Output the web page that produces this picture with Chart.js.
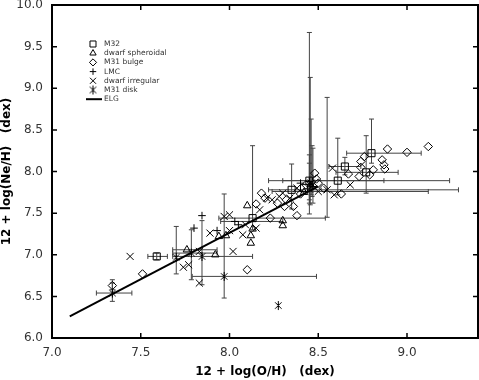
<!DOCTYPE html>
<html>
<head>
<meta charset="utf-8">
<script src="https://cdn.jsdelivr.net/npm/chart.js@4.4.0/dist/chart.umd.min.js"></script>
<style>
  html, body { margin: 0; padding: 0; background: #fff; }
</style>
</head>
<body>
<canvas id="chart" width="479" height="380"></canvas>
<script>
// rows: [O/H, Ne/H, O/H low, O/H high, Ne/H low, Ne/H high]
const m32 = [
  [7.59, 6.98, 7.54, 7.65, 6.94, 7.02],
  [8.13, 7.44, 7.94, 8.54, 7.30, 8.31],
  [8.35, 7.78, 8.22, 9.29, 7.55, 8.09],
  [8.45, 7.89, 8.30, 8.87, 7.62, 8.20],
  [8.42, 7.80],
  [8.61, 7.89, 8.22, 9.24, 7.72, 8.40],
  [8.65, 8.06, 8.56, 8.74, 7.96, 8.17],
  [8.77, 7.99, 8.60, 8.95, 7.74, 8.43],
  [8.80, 8.22, 8.66, 9.08, 8.10, 8.63]
];
const dwarfSph = [
  [7.76, 7.06, 7.68, 7.93, null, null],
  [7.92, 7.00],
  [7.94, 7.22],
  [7.98, 7.23],
  [8.10, 7.59],
  [8.13, 7.31],
  [8.12, 7.23],
  [8.12, 7.14],
  [8.30, 7.41],
  [8.30, 7.35],
  [8.42, 7.75]
];
const m31Bulge = [
  [7.34, 6.63, null, null, 6.58, 6.70],
  [7.51, 6.77], [8.10, 6.82], [8.15, 7.61], [8.20, 7.68],
  [8.18, 7.74], [8.23, 7.44], [8.27, 7.62], [8.32, 7.66],
  [8.36, 7.58], [8.31, 7.58], [8.38, 7.47], [8.40, 7.73],
  [8.43, 7.84], [8.48, 7.98], [8.49, 7.91], [8.50, 7.86],
  [8.53, 7.80], [8.63, 7.73], [8.67, 7.97], [8.73, 7.94],
  [8.74, 8.05], [8.74, 8.12], [8.76, 8.18], [8.79, 7.96],
  [8.81, 8.02], [8.86, 8.14], [8.87, 8.08], [8.875, 8.03],
  [8.89, 8.27], [9.00, 8.23], [9.12, 8.30]
];
const lmc = [
  [7.80, 7.32],
  [7.845, 7.47],
  [7.93, 7.29],
  [8.03, 7.40, 7.95, 8.30, null, null],
  [8.05, 7.36],
  [8.40, 7.86],
  [8.455, 7.84, null, null, 7.60, 9.13],
  [8.47, 7.82, null, null, 7.62, 8.28],
  [8.45, 7.88, null, null, 7.66, 8.10]
];
const dwarfIrr = [
  [7.44, 6.98], [7.74, 6.85], [7.77, 6.88], [7.83, 6.66],
  [7.83, 7.04], [7.89, 7.26], [7.97, 7.46], [8.00, 7.48],
  [8.00, 7.29], [8.02, 7.04], [8.075, 7.24], [8.09, 7.36],
  [8.15, 7.32], [8.17, 7.54], [8.21, 7.68], [8.24, 7.66],
  [8.28, 7.70], [8.30, 7.74], [8.34, 7.68], [8.38, 7.80],
  [8.45, 7.79, null, null, 7.49, 9.67],
  [8.46, 7.86, null, null, 7.72, 8.63],
  [8.50, 7.76, 8.24, 9.12, null, null],
  [8.55, 7.78, null, null, 7.45, 8.89],
  [8.58, 8.04], [8.59, 7.72], [8.68, 7.84]
];
const m31Disk = [
  [7.34, 6.54, 7.25, 7.45, 6.44, 6.66],
  [7.70, 6.97, null, null, 6.77, 7.34],
  [7.785, 7.02, 7.68, 7.93, 6.70, 7.30],
  [7.845, 6.98, 7.68, 8.13, 6.64, 7.41],
  [7.97, 6.74, 7.79, 8.49, 6.48, 7.73],
  [8.275, 6.39],
  [8.465, 7.83, null, null, 7.70, 8.31]
];
const elgX = [7.1, 8.5];
const elgY = [6.26, 7.82];

const xTickValues = [7.0, 7.5, 8.0, 8.5, 9.0];
const yTickValues = [6.0, 6.5, 7.0, 7.5, 8.0, 8.5, 9.0, 9.5, 10.0];

Chart.defaults.font.family = '"DejaVu Sans", Verdana, sans-serif';

// Excel-style star marker: x with a vertical stroke
function asterisk(r) {
  const c = document.createElement('canvas');
  const s = Math.ceil(r * 2) + 2;
  c.width = s; c.height = s;
  const g = c.getContext('2d');
  const m = s / 2, d = r * 0.72;
  g.strokeStyle = '#000';
  g.lineWidth = 1;
  g.beginPath();
  g.moveTo(m - d, m - d); g.lineTo(m + d, m + d);
  g.moveTo(m + d, m - d); g.lineTo(m - d, m + d);
  g.moveTo(m, m - r); g.lineTo(m, m + r);
  g.stroke();
  return c;
}

const series = [
  { label: 'M32', rows: m32, style: 'rect', radius: 5 },
  { label: 'dwarf spheroidal', rows: dwarfSph, style: 'triangle', radius: 4.3 },
  { label: 'M31 bulge', rows: m31Bulge, style: 'rectRot', radius: 4.2 },
  { label: 'LMC', rows: lmc, style: 'cross', radius: 3.8 },
  { label: 'dwarf irregular', rows: dwarfIrr, style: 'crossRot', radius: 5 },
  { label: 'M31 disk', rows: m31Disk, style: asterisk(4.5), radius: 4.5 }
];

const datasets = series.map(s => ({
  label: s.label,
  data: s.rows.map(r => ({ x: r[0], y: r[1] })),
  pointStyle: s.style,
  pointRadius: s.radius,
  pointBorderWidth: 1,
  borderColor: '#000',
  backgroundColor: 'rgba(0,0,0,0)',
  showLine: false
}));
datasets.push({
  label: 'ELG',
  data: elgX.map((x, i) => ({ x: x, y: elgY[i] })),
  showLine: true,
  borderColor: '#000',
  borderWidth: 2,
  pointRadius: 0,
  fill: false
});

const errorBars = {
  id: 'errorBars',
  beforeDatasetsDraw(chart) {
    const { ctx, scales: { x, y } } = chart;
    const cap = 2.5;
    ctx.save();
    ctx.strokeStyle = '#444';
    ctx.lineWidth = 1;
    ctx.beginPath();
    series.forEach(s => s.rows.forEach(r => {
      const px = x.getPixelForValue(r[0]);
      const py = y.getPixelForValue(r[1]);
      if (r[2] != null) {
        const a = x.getPixelForValue(r[2]), b = x.getPixelForValue(r[3]);
        ctx.moveTo(a, py); ctx.lineTo(b, py);
        ctx.moveTo(a, py - cap); ctx.lineTo(a, py + cap);
        ctx.moveTo(b, py - cap); ctx.lineTo(b, py + cap);
      }
      if (r[4] != null) {
        const a = y.getPixelForValue(r[4]), b = y.getPixelForValue(r[5]);
        ctx.moveTo(px, a); ctx.lineTo(px, b);
        ctx.moveTo(px - cap, a); ctx.lineTo(px + cap, a);
        ctx.moveTo(px - cap, b); ctx.lineTo(px + cap, b);
      }
    }));
    ctx.stroke();
    ctx.restore();
  }
};

const frame = {
  id: 'frame',
  afterDraw(chart) {
    const { ctx, chartArea: a, scales: { x, y } } = chart;
    const t = 5;
    ctx.save();
    ctx.strokeStyle = '#000';
    ctx.lineWidth = 1.5;
    ctx.beginPath();
    xTickValues.forEach(v => {
      const px = x.getPixelForValue(v);
      ctx.moveTo(px, a.bottom); ctx.lineTo(px, a.bottom - t);
      ctx.moveTo(px, a.top); ctx.lineTo(px, a.top + t);
    });
    yTickValues.forEach(v => {
      const py = y.getPixelForValue(v);
      ctx.moveTo(a.left, py); ctx.lineTo(a.left + t, py);
      ctx.moveTo(a.right, py); ctx.lineTo(a.right - t, py);
    });
    ctx.stroke();
    ctx.lineWidth = 2;
    ctx.strokeRect(a.left, a.top, a.right - a.left, a.bottom - a.top);
    ctx.restore();
  }
};

const insideLegend = {
  id: 'insideLegend',
  afterDatasetsDraw(chart) {
    const { ctx, chartArea: a } = chart;
    const x0 = a.left + 41, y0 = a.top + 39, step = 9.2;
    ctx.save();
    ctx.textBaseline = 'middle';
    ctx.font = '7.5px "DejaVu Sans", Verdana, sans-serif';
    chart.data.datasets.forEach((ds, i) => {
      const yy = y0 + i * step;
      ctx.strokeStyle = '#000';
      if (ds.showLine) {
        ctx.lineWidth = 2;
        ctx.beginPath();
        ctx.moveTo(x0 - 7, yy); ctx.lineTo(x0 + 9, yy);
        ctx.stroke();
      } else {
        ctx.lineWidth = 1;
        ctx.fillStyle = 'rgba(0,0,0,0)';
        Chart.helpers.drawPoint(ctx, {
          pointStyle: ds.pointStyle, radius: ds.pointRadius * 0.85, borderWidth: 1, rotation: 0
        }, x0, yy);
      }
      ctx.fillStyle = '#333';
      ctx.fillText(ds.label, x0 + 11, yy);
    });
    ctx.restore();
  }
};

new Chart(document.getElementById('chart').getContext('2d'), {
  type: 'scatter',
  data: { datasets },
  plugins: [errorBars, insideLegend, frame],
  options: {
    responsive: false,
    animation: false,
    layout: { autoPadding: false, padding: { top: 5, right: 1, left: 0, bottom: 0 } },
    plugins: { legend: { display: false }, tooltip: { enabled: false } },
    scales: {
      x: {
        type: 'linear',
        min: 7.0,
        max: 9.4,
        grid: { display: false, drawTicks: false },
        border: { display: false },
        afterBuildTicks: s => { s.ticks = xTickValues.map(v => ({ value: v })); },
        afterFit: s => { s.height = 42; s.paddingLeft = 0; s.paddingRight = 0; },
        ticks: {
          padding: 8,
          color: '#333',
          font: { size: 12 },
          maxRotation: 0,
          callback: v => v.toFixed(1)
        },
        title: {
          display: true,
          text: '12 + log(O/H)   (dex)',
          color: '#000',
          font: { size: 12, weight: 'bold' },
          padding: { top: 2, bottom: 1 }
        }
      },
      y: {
        type: 'linear',
        min: 6.0,
        max: 10.0,
        grid: { display: false, drawTicks: false },
        border: { display: false },
        afterBuildTicks: s => { s.ticks = yTickValues.map(v => ({ value: v })); },
        afterFit: s => { s.width = 52; s.paddingTop = 0; s.paddingBottom = 0; },
        ticks: {
          padding: 9,
          color: '#333',
          font: { size: 12 },
          callback: v => v.toFixed(1)
        },
        title: {
          display: true,
          text: '12 + log(Ne/H)   (dex)',
          color: '#000',
          font: { size: 12, weight: 'bold' },
          padding: { top: 0, bottom: 0 }
        }
      }
    }
  }
});
</script>
</body>
</html>
